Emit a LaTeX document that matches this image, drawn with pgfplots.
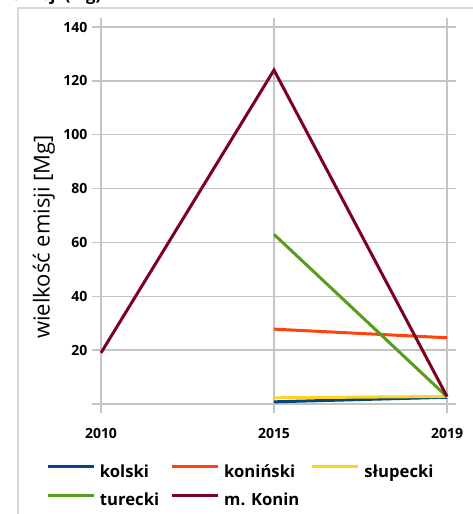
\documentclass[border=0pt]{standalone}
\usepackage{fontspec}
\setmainfont{Open Sans}
\usepackage{pgfplots}
\pgfplotsset{compat=1.18}

\definecolor{gridc}{HTML}{C4C4C4}
\definecolor{framec}{HTML}{D9D9D9}
\definecolor{cKol}{HTML}{004586}
\definecolor{cKon}{HTML}{FF420E}
\definecolor{cSlu}{HTML}{FFD320}
\definecolor{cTur}{HTML}{579D1C}
\definecolor{cMK}{HTML}{7E0021}

\begin{document}
\begin{tikzpicture}[x=0.75pt,y=0.75pt]
\useasboundingbox (0,0) rectangle (473,514);
% chart frame (extends past the right and bottom edges)
\draw[line width=1.1pt, color=framec] (18,-20) -- (18,506) -- (500,506);
% title, mostly outside the visible area
\node[anchor=base east, font=\bfseries\fontsize{12.5}{15}\selectfont] at (106,513) {emisji (Mg)};
\begin{axis}[
  at={(75.75pt,82.5pt)}, anchor=south west, scale only axis,
  width=259.5pt, height=282.75pt,
  xmin=0, xmax=2, ymin=0, ymax=140,
  xtick={0,1,2}, xticklabels={2010,2015,2019},
  ytick={0,20,...,140}, yticklabels={,20,40,60,80,100,120,140},
  grid=major,
  major grid style={line width=1.1pt, color=gridc},
  axis line style={draw=none},
  tick align=outside, major tick length=6.75pt,
  tick style={line width=1.1pt, color=gridc},
  /pgf/number format/assume math mode=true,
  tick label style={font=\bfseries\fontsize{10.5}{12}\selectfont, color=black},
  xticklabel style={yshift=-8pt},
  ylabel={wielkość emisji [Mg]},
  ylabel style={at={(axis description cs:-0.165,0.443)}, anchor=center,
    font=\fontsize{16.5}{19}\selectfont},
  clip=false,
  legend columns=3,
  legend cell align=left,
  legend style={draw=none, fill=none, inner sep=0pt,
    at={(-0.159,-0.1538)}, anchor=north west,
    font=\bfseries\fontsize{12.5}{15}\selectfont,
    row sep=6pt,
    /tikz/every odd column/.append style={column sep=1.5pt},
    /tikz/every even column/.append style={column sep=6.5pt}},
  legend image code/.code={\draw[#1, line width=2.25pt] (0pt,4pt) -- (34.5pt,4pt);},
  every axis plot/.append style={line width=2.25pt},
]
\addplot[cKol] coordinates {(1,0.8) (2,2.5)};
\addlegendentry{kolski}
\addplot[cKon] coordinates {(1,27.8) (2,24.6)};
\addlegendentry{koniński}
\addplot[cSlu] coordinates {(1,2.3) (2,2.8)};
\addlegendentry{słupecki}
\addplot[cTur] coordinates {(1,63) (2,2.7)};
\addlegendentry{turecki}
\addplot[cMK] coordinates {(0,19) (1,124) (2,2.8)};
\addlegendentry{m. Konin}
\end{axis}
\end{tikzpicture}
\end{document}
